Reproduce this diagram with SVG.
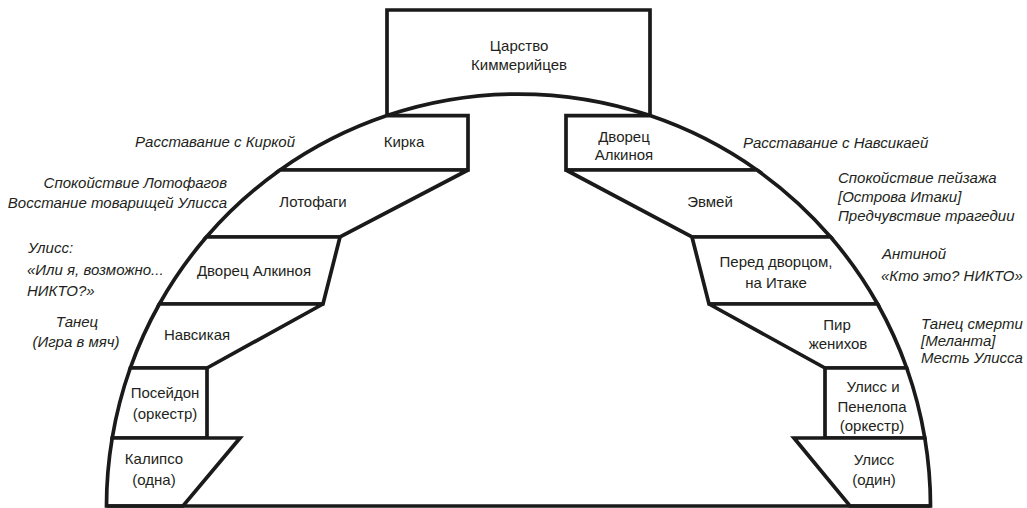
<svg xmlns="http://www.w3.org/2000/svg" width="1027" height="508" viewBox="0 0 1027 508">
<style>
.n{fill:#fff;stroke:#1a1a1a;stroke-width:3.7;stroke-linejoin:miter}
.t{font-family:"Liberation Sans",Arial,sans-serif;font-size:15px;fill:#231f20;text-anchor:middle}
.i{font-family:"Liberation Sans",Arial,sans-serif;font-size:15px;font-style:italic;fill:#231f20}
.e{text-anchor:end}
.m{text-anchor:middle}
</style>
<rect width="1027" height="508" fill="#fff"/>
<g id="top">
<path class="n" d="M387,115.6 V10 H650 V115.6 A412,412 0 0,0 387,115.6 Z"/>
<text class="t" x="519" y="51">Царство</text>
<text class="t" x="519" y="70">Киммерийцев</text>
</g>
<g id="kirka">
<path class="n" d="M387,115.6 H468 V170 H280.1 A412,412 0 0,1 387,115.6 Z"/>
<text class="t" x="404" y="147">Кирка</text>
</g>
<g id="lotofagi">
<path class="n" d="M280.1,170 H468 L340,237 H206.4 A412,412 0 0,1 280.1,170 Z"/>
<text class="t" x="313" y="207">Лотофаги</text>
</g>
<g id="dvorets-l">
<path class="n" d="M206.4,237 H340 L323,304 H159.4 A412,412 0 0,1 206.4,237 Z"/>
<text class="t" x="254" y="276">Дворец Алкиноя</text>
</g>
<g id="navsikaya">
<path class="n" d="M159.4,304 H323 L207,368 H130.3 A412,412 0 0,1 159.4,304 Z"/>
<text class="t" x="197" y="340">Навсикая</text>
</g>
<g id="poseidon">
<path class="n" d="M130.3,368 H207 V438 H112.2 A412,412 0 0,1 130.3,368 Z"/>
<text class="t" x="165" y="398">Посейдон</text>
<text class="t" x="165" y="419">(оркестр)</text>
</g>
<g id="kalipso">
<path class="n" d="M112.2,438 H240 L183,506 H106.5 A412,412 0 0,1 112.2,438 Z"/>
<text class="t" x="154" y="464">Калипсо</text>
<text class="t" x="154" y="485">(одна)</text>
</g>
<g id="dvorets-r">
<path class="n" d="M566,115.6 H650 A412,412 0 0,1 756.9,170 H566 Z"/>
<text class="t" x="624" y="142">Дворец</text>
<text class="t" x="624" y="160">Алкиноя</text>
</g>
<g id="evmei">
<path class="n" d="M566,170 H756.9 A412,412 0 0,1 830.6,237 H692 Z"/>
<text class="t" x="710" y="207">Эвмей</text>
</g>
<g id="pered">
<path class="n" d="M692,237 H830.6 A412,412 0 0,1 877.6,304 H709 Z"/>
<text class="t" x="776" y="267">Перед дворцом,</text>
<text class="t" x="776" y="288">на Итаке</text>
</g>
<g id="pir">
<path class="n" d="M709,304 H877.6 A412,412 0 0,1 906.7,368 H825 Z"/>
<text class="t" x="837" y="330">Пир</text>
<text class="t" x="838" y="349">женихов</text>
</g>
<g id="penelopa">
<path class="n" d="M825,368 H906.7 A412,412 0 0,1 924.8,438 H825 Z"/>
<text class="t" x="873" y="392">Улисс и</text>
<text class="t" x="872" y="412">Пенелопа</text>
<text class="t" x="872" y="431">(оркестр)</text>
</g>
<g id="ulis">
<path class="n" d="M794,438 H924.8 A412,412 0 0,1 930.5,506 H850 Z"/>
<text class="t" x="874" y="465">Улисс</text>
<text class="t" x="874" y="485">(один)</text>
</g>
<g id="connectors">
<path d="M106.5,506 H930.5" fill="none" stroke="#1a1a1a" stroke-width="3.7"/>
</g>
<g id="notes">
<text class="i e" x="295" y="147">Расставание с Киркой</text>
<text class="i e" x="227" y="188">Спокойствие Лотофагов</text>
<text class="i e" x="227" y="208">Восстание товарищей Улисса</text>
<text class="i" x="28" y="253">Улисс:</text>
<text class="i" x="27" y="275">«Или я, возможно...</text>
<text class="i" x="27" y="296">НИКТО?»</text>
<text class="i m" x="77" y="327">Танец</text>
<text class="i m" x="76" y="347">(Игра в мяч)</text>
<text class="i" x="743" y="148">Расставание с Навсикаей</text>
<text class="i" x="838" y="183">Спокойствие пейзажа</text>
<text class="i" x="838" y="202">[Острова Итаки]</text>
<text class="i" x="838" y="221">Предчувствие трагедии</text>
<text class="i" x="882" y="259">Антиной</text>
<text class="i" x="881" y="281">«Кто это? НИКТО»</text>
<text class="i" x="921" y="329">Танец смерти</text>
<text class="i" x="921" y="346">[Меланта]</text>
<text class="i" x="921" y="363">Месть Улисса</text>
</g>
</svg>
